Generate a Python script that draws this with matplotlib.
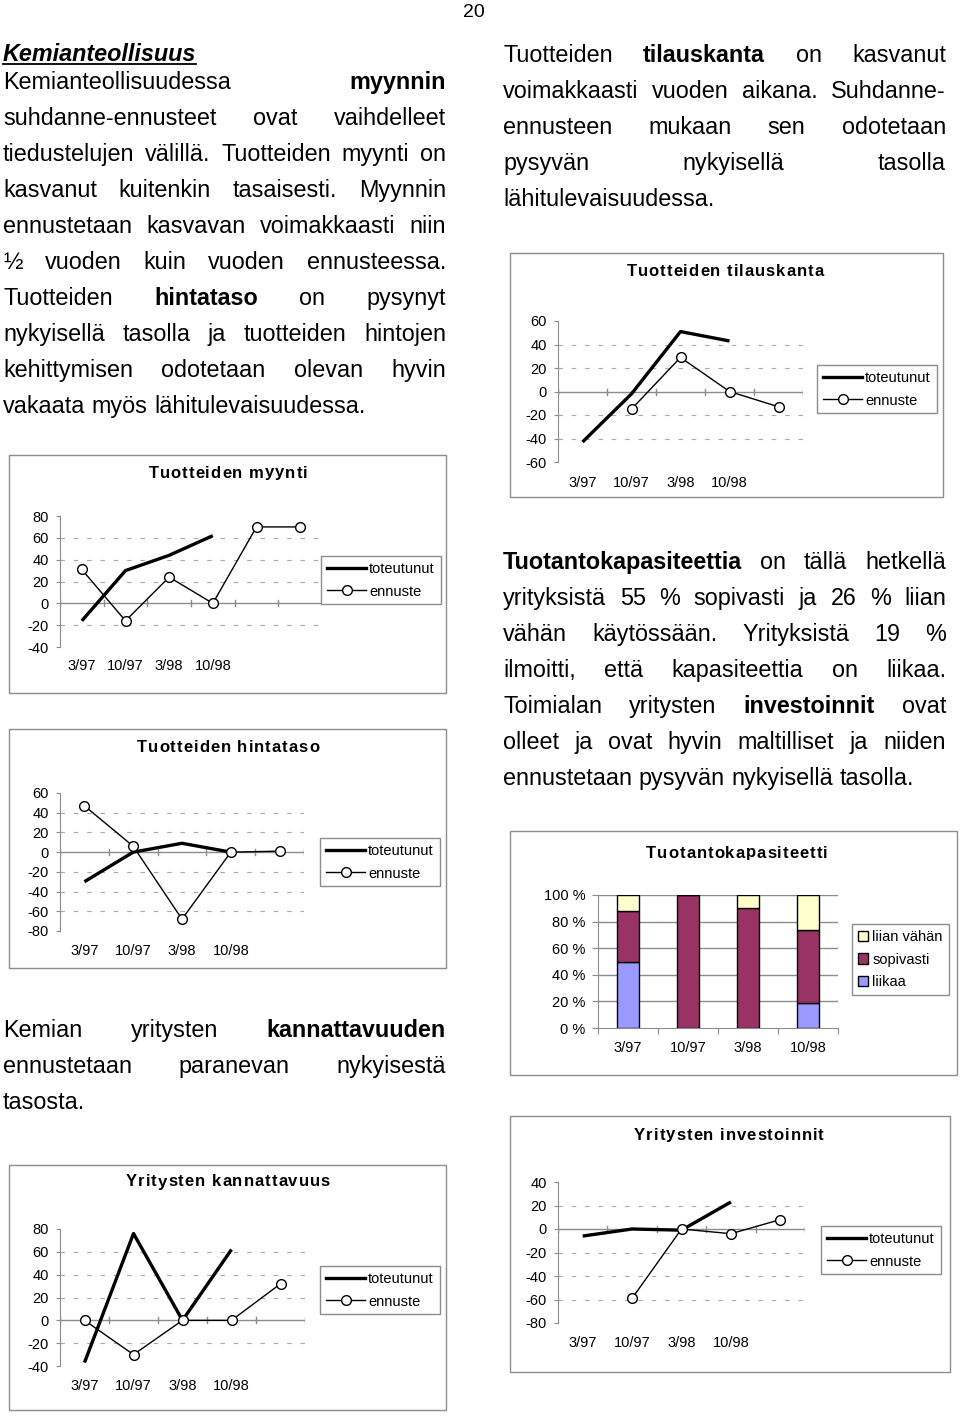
import matplotlib
matplotlib.use('Agg')
import matplotlib.pyplot as plt
from matplotlib.patches import Rectangle, Patch
from matplotlib.lines import Line2D
import numpy as np

plt.rcParams['font.family'] = ['Liberation Sans', 'DejaVu Sans']
plt.rcParams['axes.unicode_minus'] = False

W, H = 960, 1416
BODY = 16.8
TICK = 10.5
GRAY = '#8c8c8c'

# --- chart data ---
kaudet = ['3/97', '10/97', '3/98', '10/98']

myynti_tot = [-16, 30, 44, 62]
myynti_enn = [31, -16, 24, 0, 70, 70]

hinta_tot = [-30, 0, 9, 0]
hinta_enn = [47, 6, -68, 0, 1]

tilaus_tot = [-43, -2, 51, 43]
tilaus_enn = [np.nan, -15, 29, 0, -13]

kannatt_tot = [-37, 76, 0, 62]
kannatt_enn = [0, -30, 0, 0, 32]

invest_tot = [-6, 0, -1, 23]
invest_enn = [np.nan, -59, 0, -4, 8]

kap_liikaa = [50, 0, 0, 19]
kap_sopivasti = [38, 100, 90, 55]
kap_liian_vahan = [12, 0, 10, 26]
kap_ticks = ['0 %', '20 %', '40 %', '60 %', '80 %', '100 %']

# --- body text, '*' marks a bold word ---
left_top = [
    "Kemianteollisuudessa *myynnin",
    "suhdanne-ennusteet ovat vaihdelleet",
    "tiedustelujen välillä. Tuotteiden myynti on",
    "kasvanut kuitenkin tasaisesti. Myynnin",
    "ennustetaan kasvavan voimakkaasti niin",
    "½ vuoden kuin vuoden ennusteessa.",
    "Tuotteiden *hintataso on pysynyt",
    "nykyisellä tasolla ja tuotteiden hintojen",
    "kehittymisen odotetaan olevan hyvin",
    "vakaata myös lähitulevaisuudessa.",
]
right_top = [
    "Tuotteiden *tilauskanta on kasvanut",
    "voimakkaasti vuoden aikana. Suhdanne-",
    "ennusteen mukaan sen odotetaan",
    "pysyvän nykyisellä tasolla",
    "lähitulevaisuudessa.",
]
right_mid = [
    "*Tuotantokapasiteettia on tällä hetkellä",
    "yrityksistä 55 % sopivasti ja 26 % liian",
    "vähän käytössään. Yrityksistä 19 %",
    "ilmoitti, että kapasiteettia on liikaa.",
    "Toimialan yritysten *investoinnit ovat",
    "olleet ja ovat hyvin maltilliset ja niiden",
    "ennustetaan pysyvän nykyisellä tasolla.",
]
left_bottom = [
    "Kemian yritysten *kannattavuuden",
    "ennustetaan paranevan nykyisestä",
    "tasosta.",
]

fig = plt.figure(figsize=(W / 100, H / 100), dpi=100)
renderer = fig.canvas.get_renderer()


def fx(x):
    return x / W


def fy(y):
    return 1 - y / H


def frame(x0, y0, x1, y1):
    fig.add_artist(Rectangle((fx(x0), fy(y1)), (x1 - x0) / W, (y1 - y0) / H,
                             transform=fig.transFigure, fill=False,
                             edgecolor=GRAY, lw=1))


def spaced_title(xc, yc, s, size=12, track=1.0):
    # Excel prints chart titles with loose letter spacing
    objs = [fig.text(0, fy(yc), ch, fontsize=size, fontweight='bold',
                     ha='left', va='center') for ch in s]
    widths = []
    for ch, t in zip(s, objs):
        if ch == ' ':
            widths.append(0.278 * size * 100 / 72)
        else:
            widths.append(t.get_window_extent(renderer).width)
    total = sum(widths) + track * (len(s) - 1)
    x = xc - total / 2
    for t, w in zip(objs, widths):
        t.set_x(fx(x))
        x += w + track


def text_block(lines, x0, x1, y0, step=36):
    space = 0.278 * BODY * 100 / 72
    for i, line in enumerate(lines):
        y = y0 + i * step
        objs = []
        for w in line.split(' '):
            bold = w.startswith('*')
            t = fig.text(fx(x0), fy(y), w.lstrip('*'), fontsize=BODY,
                         fontweight='bold' if bold else 'normal',
                         ha='left', va='baseline')
            objs.append(t)
        widths = [t.get_window_extent(renderer).width for t in objs]
        last = i == len(lines) - 1
        if not last and len(objs) > 1:
            gap = (x1 - x0 - sum(widths)) / (len(objs) - 1)
        else:
            gap = space
        x = x0
        for t, w in zip(objs, widths):
            t.set_x(fx(x))
            x += w + gap


def line_chart(box, plot, title, title_xy, ymin, ymax, ncat, tot, enn,
               legend_xy, label_y):
    frame(*box)
    x0, y0, x1, y1 = plot
    ax = fig.add_axes([fx(x0), fy(y1), (x1 - x0) / W, (y1 - y0) / H])
    ax.set_facecolor('none')
    ax.set_xlim(-0.5, ncat - 0.5)
    ax.set_ylim(ymin, ymax)
    for s in ['top', 'right', 'bottom']:
        ax.spines[s].set_visible(False)
    ax.spines['left'].set_color(GRAY)
    ax.set_yticks(range(ymin, ymax + 1, 20))
    ax.tick_params(axis='y', length=3, color=GRAY, labelsize=TICK, pad=5)
    ax.set_xticks([])
    dpp = (ymax - ymin) / (y1 - y0)
    for v in range(ymin + 20, ymax, 20):
        if v != 0:
            ax.axhline(v, color='#a8a8a8', lw=0.8, ls=(0, (4, 8)))
    ax.axhline(0, color=GRAY, lw=1)
    for k in range(ncat + 1):
        ax.plot([k - 0.5, k - 0.5], [-3 * dpp, 3 * dpp], color=GRAY, lw=1)
    for k, lab in enumerate(kaudet):
        ax.text(k, ymin - (label_y - y1) * dpp, lab, ha='center', va='center',
                fontsize=TICK, clip_on=False)
    ax.plot(range(len(tot)), tot, color='black', lw=2.4,
            solid_capstyle='butt', zorder=3)
    ax.plot(range(len(enn)), enn, color='black', lw=1, marker='o', ms=7,
            mfc='white', mec='black', mew=1, zorder=4)
    spaced_title(title_xy[0], title_xy[1], title)
    handles = [Line2D([], [], color='black', lw=2.4),
               Line2D([], [], color='black', lw=1, marker='o', ms=7,
                      mfc='white', mec='black')]
    leg = fig.legend(handles, ['toteutunut', 'ennuste'], loc='upper left',
                     bbox_to_anchor=(fx(legend_xy[0]), fy(legend_xy[1])),
                     bbox_transform=fig.transFigure, fancybox=False,
                     framealpha=1, edgecolor=GRAY, fontsize=10.5,
                     handlelength=2.7, handletextpad=0.2, borderpad=0.4,
                     labelspacing=0.6, borderaxespad=0)
    leg.get_frame().set_linewidth(1)
    return ax


# page number
fig.text(fx(474), fy(17), '20', ha='center', va='baseline', fontsize=14)

# heading
h = fig.text(fx(3), fy(61), 'Kemianteollisuus', fontsize=BODY,
             fontweight='bold', fontstyle='italic', ha='left', va='baseline')
hw = h.get_window_extent(renderer).width
fig.add_artist(Line2D([fx(3), fx(3 + hw)], [fy(64), fy(64)],
                      transform=fig.transFigure, color='black', lw=1.3))

text_block(left_top, 3, 446, 89)
text_block(right_top, 503, 946, 62)
text_block(right_mid, 503, 946, 569)
text_block(left_bottom, 3, 446, 1037)

# line charts
line_chart((9, 455, 446, 693), (60, 516, 322, 647), 'Tuotteiden myynti',
           (228, 473), -40, 80, 6, myynti_tot, myynti_enn, (321, 556), 666)
line_chart((9, 729, 446, 968), (60, 793, 304, 931), 'Tuotteiden hintataso',
           (228, 747), -80, 60, 5, hinta_tot, hinta_enn, (320, 838), 951)
line_chart((510, 253, 943, 497), (558, 321, 803, 462), 'Tuotteiden tilauskanta',
           (725, 272), -60, 60, 5, tilaus_tot, tilaus_enn, (817, 365), 483)
line_chart((9, 1165, 446, 1410), (60, 1229, 305, 1366), 'Yritysten kannattavuus',
           (228, 1182), -40, 80, 5, kannatt_tot, kannatt_enn, (320, 1266), 1386)
line_chart((510, 1116, 950, 1372), (558, 1182, 805, 1323), 'Yritysten investoinnit',
           (729, 1135), -80, 40, 5, invest_tot, invest_enn, (821, 1226), 1343)

# stacked capacity chart
frame(510, 831, 957, 1075)
px0, py0, px1, py1 = 598, 895, 838, 1028
ax = fig.add_axes([fx(px0), fy(py1), (px1 - px0) / W, (py1 - py0) / H])
ax.set_facecolor('none')
x = np.arange(len(kaudet))
liikaa = np.array(kap_liikaa)
sopiv = np.array(kap_sopivasti)
vahan = np.array(kap_liian_vahan)
ax.set_xlim(-0.5, len(kaudet) - 0.5)
ax.set_ylim(0, 100)
for v in range(20, 101, 20):
    ax.axhline(v, color=GRAY, lw=1, zorder=0)
ax.bar(x, liikaa, width=0.38, color='#9999ff', edgecolor='black', lw=1, zorder=2)
ax.bar(x, sopiv, width=0.38, bottom=liikaa, color='#993366',
       edgecolor='black', lw=1, zorder=2)
ax.bar(x, vahan, width=0.38, bottom=liikaa + sopiv, color='#ffffcc',
       edgecolor='black', lw=1, zorder=2)
for s in ['top', 'right']:
    ax.spines[s].set_visible(False)
ax.spines['left'].set_color(GRAY)
ax.spines['bottom'].set_color(GRAY)
ax.set_yticks(range(0, 101, 20))
ax.set_yticklabels(kap_ticks)
ax.set_xticks(np.arange(len(kaudet) + 1) - 0.5)
ax.set_xticklabels([])
ax.tick_params(axis='both', length=4, color=GRAY, labelsize=TICK)
ax.tick_params(axis='y', pad=5)
dpp = 100 / (py1 - py0)
for k, lab in enumerate(kaudet):
    ax.text(k, -(1048 - py1) * dpp, lab, ha='center', va='center',
            fontsize=TICK, clip_on=False)
spaced_title(737, 853, 'Tuotantokapasiteetti')
handles = [Patch(facecolor='#ffffcc', edgecolor='black', lw=1),
           Patch(facecolor='#993366', edgecolor='black', lw=1),
           Patch(facecolor='#9999ff', edgecolor='black', lw=1)]
leg = fig.legend(handles, ['liian vähän', 'sopivasti', 'liikaa'],
                 loc='upper left', bbox_to_anchor=(fx(852), fy(924)),
                 bbox_transform=fig.transFigure, fancybox=False, framealpha=1,
                 edgecolor=GRAY, fontsize=10.5, handlelength=0.7,
                 handleheight=0.7, handletextpad=0.3, borderpad=0.4,
                 labelspacing=0.6, borderaxespad=0)
leg.get_frame().set_linewidth(1)

fig.savefig('out.png', dpi=100)
